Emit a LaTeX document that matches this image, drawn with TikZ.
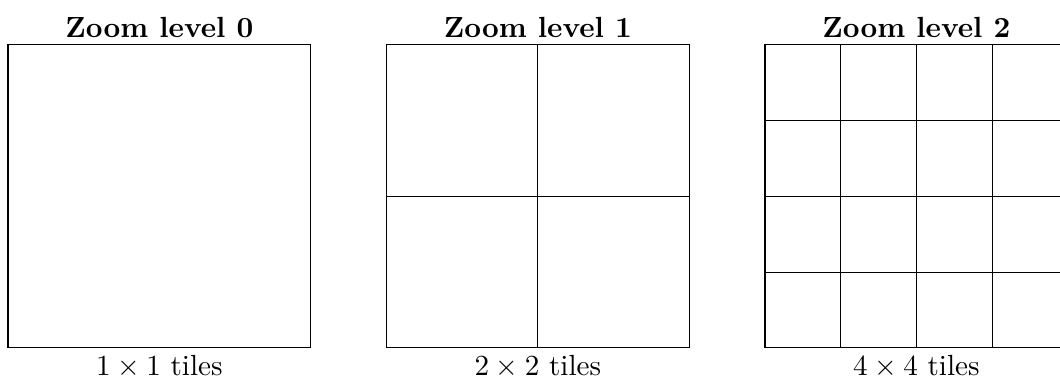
\documentclass[tikz,border=0pt]{standalone}
\begin{document}
\begin{tikzpicture}[
  lbl/.style={font=\fontsize{10.95pt}{13pt}\selectfont, inner sep=0pt, anchor=base},
  ttl/.style={lbl, font=\fontsize{10.95pt}{13pt}\selectfont\bfseries},
  tile/.style={draw=black, line width=0.4pt}
]
\useasboundingbox (-0.106,-0.426) rectangle (13.897,4.594);
\clip (-0.106,-0.426) rectangle (13.897,4.594);
% level 0
\draw[tile] (0,0) rectangle (4,4);
% level 1
\draw[tile] (5,0) rectangle (9,4);
\draw[tile] (7,0) -- (7,4);
\draw[tile] (5,2) -- (9,2);
% level 2
\draw[tile] (10,0) rectangle (14,4);
\foreach \i in {1,2,3} {
  \draw[tile] (10+\i,0) -- (10+\i,4);
  \draw[tile] (10,\i) -- (14,\i);
}
\node[ttl] (t0) at (2,4.1) {Zoom level 0};
\node[ttl] (t1) at (7,4.1) {Zoom level 1};
\node[ttl] (t2) at (12,4.1) {Zoom level 2};
\node[lbl] (c0) at (2,-0.37) {$1\times1$ tiles};
\node[lbl] (c1) at (7,-0.37) {$2\times2$ tiles};
\node[lbl] (c2) at (12,-0.37) {$4\times4$ tiles};
\end{tikzpicture}
\end{document}
